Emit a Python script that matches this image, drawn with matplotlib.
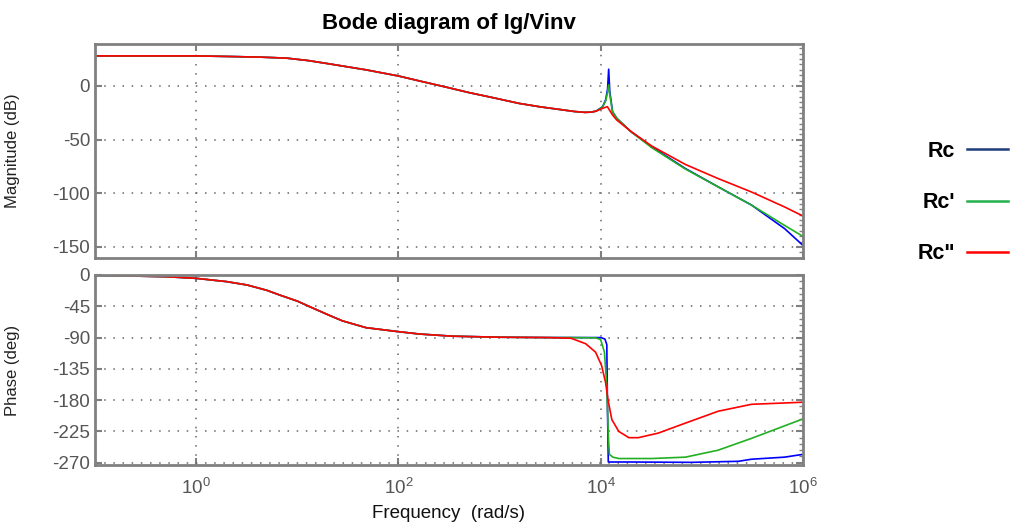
import numpy as np
import matplotlib.pyplot as plt
from matplotlib.lines import Line2D
from matplotlib.ticker import MultipleLocator

plt.rcParams['font.family'] = ['Liberation Sans', 'DejaVu Sans']
plt.rcParams['mathtext.fontset'] = 'custom'
plt.rcParams['mathtext.rm'] = 'Liberation Sans'
plt.rcParams['mathtext.it'] = 'Liberation Sans'
plt.rcParams['axes.unicode_minus'] = False

# magnitude (dB), part shared by all three curves
w_mag_common = [0.1, 1, 2.3, 4.5, 7.9, 13, 22, 48, 100, 161, 300, 500, 900, 1550, 2500, 3850, 5500, 7000, 8000]
mag_common = [28, 28, 27.4, 26.8, 25.9, 23.6, 20.2, 15, 9.3, 4.7, -1.2, -6.2, -11.3, -16.2, -19.4, -21.8, -23.8, -24.6, -24.4]

# magnitude near and above resonance
w_mag_rc = [9000, 10460, 11200, 11700, 12000, 12300, 13100, 14400, 20000, 32000, 69000, 145000, 310000, 660000, 1e6]
mag_rc = [-23.5, -19.3, -13, -3, 15.6, -5, -24, -30, -42.7, -56.7, -77, -94, -111, -133, -148.6]
w_mag_rc1 = [9000, 10460, 11200, 11700, 12000, 12300, 13100, 14400, 20000, 32000, 69000, 145000, 310000, 660000, 1e6]
mag_rc1 = [-23.5, -19.5, -14, -6, 1, -8, -24, -30, -42.7, -57.5, -77.5, -94, -111, -130, -140.2]
w_mag_rc2 = [9000, 10460, 11650, 13100, 14400, 20000, 32000, 69000, 145000, 310000, 660000, 1e6]
mag_rc2 = [-23.5, -20.8, -19.3, -27, -31.7, -42.5, -56, -73.2, -86.3, -98.8, -112.8, -121.2]

# phase (deg), shared part
w_ph_common = [0.1, 0.5, 1, 2, 3.2, 5, 6.7, 10, 13.3, 20, 28, 48, 100, 161, 340, 1000, 3000]
ph_common = [-0.5, -2.4, -4.8, -9.5, -14.4, -22, -28.8, -37.5, -45.6, -57, -66, -75.8, -81.5, -84.9, -88, -89.5, -90]

w_ph_rc = [5100, 10000, 11000, 11500, 11700, 11900, 20000, 79000, 230000, 310000, 660000, 1e6]
ph_rc = [-90, -90, -92, -100, -200, -269, -269, -269.5, -268, -265, -262, -258]
w_ph_rc1 = [5100, 9000, 10000, 10900, 11500, 11900, 12200, 13200, 15100, 32000, 69000, 145000, 310000, 1e6]
ph_rc1 = [-90, -90.5, -93, -111, -160, -230, -258, -262, -264, -264, -262, -252, -235, -207]
w_ph_rc2 = [5100, 7100, 8900, 10200, 11200, 11800, 12900, 15100, 19000, 23600, 37000, 69000, 145000, 310000, 1e6]
ph_rc2 = [-91, -98.8, -111, -130, -155, -179, -208, -225, -234, -234, -227.5, -213, -196, -186, -183]

series = [
    ("Rc", w_mag_rc, mag_rc, w_ph_rc, ph_rc, '#0000ff', '#1f3d7a'),
    ("Rc'", w_mag_rc1, mag_rc1, w_ph_rc1, ph_rc1, '#22b022', '#22b14c'),
    ('Rc"', w_mag_rc2, mag_rc2, w_ph_rc2, ph_rc2, '#ff0000', '#ff0000'),
]

fig = plt.figure(figsize=(10.1, 5.25), dpi=100)
ax1 = fig.add_axes([0.094, 0.5086, 0.701, 0.4076])
ax2 = fig.add_axes([0.094, 0.1143, 0.701, 0.3619])

handles = []
for name, wm, m, wp, p, c, legc in series:
    ax1.plot(w_mag_common + wm, mag_common + m, color=c, lw=1.2)
    ax2.plot(w_ph_common + wp, ph_common + p, color=c, lw=1.2)
    handles.append(Line2D([], [], color=legc, lw=1.8))

grey = '#808080'
tick_grey = '#555555'
for ax in (ax1, ax2):
    ax.set_xscale('log')
    ax.set_xlim(1e-1, 1e6)
    ax.set_xticks([1, 1e2, 1e4, 1e6])
    ax.set_xticks([], minor=True)
    for s in ax.spines.values():
        s.set_color(grey)
        s.set_linewidth(2)
    ax.tick_params(which='both', direction='in', colors=grey, labelcolor=tick_grey,
                   labelsize=13.5, top=True, right=True)
    ax.tick_params(which='major', length=5, width=1.5)
    ax.tick_params(which='minor', length=3, width=1, left=False, bottom=False, top=False)
    ax.grid(True, which='major', color='#666666', linestyle=(0, (1, 5)), linewidth=1.1)

ax1.set_ylim(-160.3, 39.1)
ax1.set_yticks([-150, -100, -50, 0])
ax1.yaxis.set_minor_locator(MultipleLocator(5))
ax1.tick_params(labelbottom=False)
ax1.set_ylabel('Magnitude (dB)', fontsize=12, color='#222222')
ax1.yaxis.set_label_coords(-0.106, 0.5)
ax1.set_title('Bode diagram of Ig/Vinv', fontsize=16, fontweight='bold', pad=11)

ax2.set_ylim(-273.3, 0)
ax2.set_yticks([0, -45, -90, -135, -180, -225, -270])
ax2.yaxis.set_minor_locator(MultipleLocator(9))
ax2.set_xticklabels([r'$\mathregular{10^{0}}$', r'$\mathregular{10^{2}}$',
                     r'$\mathregular{10^{4}}$', r'$\mathregular{10^{6}}$'])
ax2.tick_params(axis='x', pad=9)
ax2.set_ylabel('Phase (deg)', fontsize=12, color='#222222')
ax2.yaxis.set_label_coords(-0.106, 0.5)
ax2.set_xlabel('Frequency  (rad/s)', fontsize=13.5, color='#111111', labelpad=5)

fig.legend(handles, [s[0] for s in series], loc='upper right', bbox_to_anchor=(1.011, 0.756),
           frameon=False, markerfirst=False, handlelength=1.9, handletextpad=0.55,
           borderpad=0.1, labelspacing=1.4, prop={'weight': 'bold', 'size': 15.5})

fig.savefig('out.png', dpi=100)
